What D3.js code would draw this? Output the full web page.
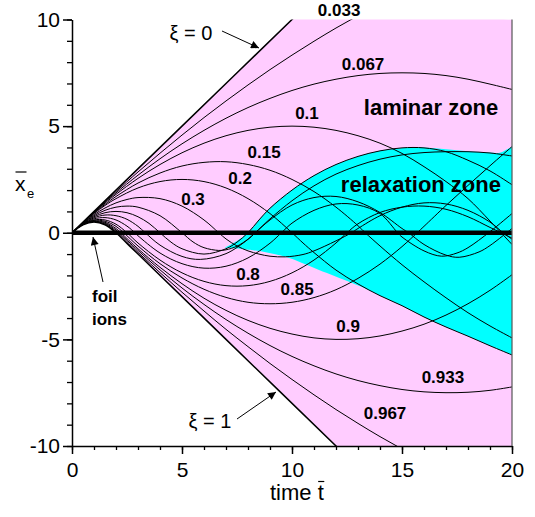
<!DOCTYPE html>
<html>
<head>
<meta charset="utf-8">
<script src="https://cdn.jsdelivr.net/npm/d3@7"></script>
<style>
  body { margin: 0; background: #fff; }
  svg { display: block; font-family: "Liberation Sans", Arial, Helvetica, sans-serif; }
</style>
</head>
<body>
<svg id="chart" width="535" height="517"></svg>
<script>
// electron trajectories x_e(t) for several foil layers xi
const xi_0 = [[0, 0], [5, 5], [10.6, 10.6]];
const xi_033 = [[0,0],[0.5,0.5],[1,0.98],[1.5,1.46],[2,1.93],[3,2.85],[4,3.73],[5,4.58],[6,5.4],[7,6.18],[8,6.93],[9,7.65],[10,8.33],[11,8.98],[12,9.6],[13,10.18],[14,10.73]];
const xi_067 = [[0,0],[0.5,0.49],[1,0.97],[1.5,1.43],[2,1.87],[3,2.7],[4,3.47],[5,4.17],[6,4.8],[7,5.37],[8,5.87],[9,6.3],[10,6.67],[11,6.97],[12,7.2],[13,7.37],[14,7.47],[15,7.5],[16,7.47],[17,7.37],[18,7.2],[19,6.97],[20,6.72]];
const xi_10 = [[0,0],[0.5,0.49],[1,0.95],[1.5,1.39],[2,1.8],[3,2.55],[4,3.2],[5,3.75],[6,4.2],[7,4.55],[8,4.8],[9,4.95],[10,5],[11,4.95],[12,4.8],[13,4.55],[14,4.2],[15,3.72],[16,3.1],[17,2.4],[18,1.6],[19,0.55],[20,-0.55]];
const xi_15 = [[0,0],[0.5,0.48],[1,0.93],[1.5,1.33],[2,1.7],[3,2.33],[4,2.8],[5,3.13],[6,3.3],[7,3.33],[8,3.2],[9,2.93],[10,2.5],[11,1.93],[12,1.2],[13,0.33],[13.33,0],[14,-0.62],[15,-1.5],[16,-2.3],[17,-3.05],[18,-3.75],[19,-4.37],[20,-4.93]];
const xi_20 = [[0,0],[0.5,0.48],[1,0.9],[1.5,1.28],[2,1.6],[3,2.1],[4,2.4],[5,2.5],[6,2.4],[7,2.1],[8,1.6],[9,0.9],[10,0],[10.5,-0.48],[11,-0.93],[12,-1.75],[13,-2.4],[14,-2.95],[15,-3.42],[16,-3.95],[17,-4.42],[18,-4.85],[19,-5.3],[20,-5.73]];
const xi_30 = [[0,0],[0.5,0.46],[1,0.85],[1.5,1.16],[2,1.4],[2.5,1.56],[3,1.65],[4,1.6],[5,1.25],[6,0.6],[6.67,0],[7,-0.29],[7.5,-0.62],[8,-0.85],[8.5,-1.0],[9,-1.1],[9.7,-1.13],[10.5,-1.02],[11,-0.85],[12,-0.38],[12.7,0],[13,0.2],[14,0.8],[15,1.2],[16,1.4],[17,1.35],[18,1.05],[19,0.5],[19.6,0],[20,-0.3]];
const xi_40 = [[0,0],[0.5,0.45],[1,0.8],[1.5,1.05],[2,1.2],[2.5,1.25],[3,1.2],[4,0.8],[5,0],[5.5,-0.43],[6,-0.7],[6.67,-0.83],[7,-0.8],[7.5,-0.63],[8,-0.3],[8.33,0],[9,0.65],[10,1.5],[11,2.2],[12,2.75],[13,3.15],[14,3.45],[15,3.65],[16,3.76],[17,3.8],[18,3.8],[19,3.74],[20,3.6]];
const xi_50 = [[0,0],[0.5,0.44],[1,0.75],[1.5,0.94],[2,1],[2.5,0.94],[3,0.75],[3.5,0.44],[4,0],[4.5,-0.44],[5,-0.75],[6,-1],[7,-0.75],[7.5,-0.44],[8,0],[8.5,0.6],[9,1.15],[10,2.0],[11,2.68],[12,3.2],[13,3.58],[14,3.84],[15,3.98],[16,3.98],[17,3.8],[18,3.4],[19,2.9],[20,2.25]];
const xi_60 = [[0,0],[0.5,0.43],[1,0.7],[1.5,0.83],[2,0.8],[2.5,0.63],[3,0.3],[3.33,0],[4,-0.58],[5,-1.11],[5.83,-1.25],[7,-0.98],[8,-0.31],[8.33,0],[9,0.6],[10,1.3],[11,1.65],[12,1.7],[13,1.45],[14,0.95],[15,0.2],[15.3,0],[16,-0.55],[17,-1.05],[17.6,-1.15],[18.5,-0.9],[19,-0.6],[20,0.2]];
const xi_70 = [[0,0],[0.5,0.41],[1,0.65],[1.5,0.71],[2,0.6],[2.5,0.31],[2.86,0],[3,-0.14],[4,-0.95],[5,-1.45],[6,-1.66],[7,-1.57],[8,-1.18],[9,-0.49],[9.52,0],[10,0.45],[11,1.05],[12,1.35],[13,1.3],[14,0.9],[14.8,0],[15,-0.2],[16,-0.85],[16.8,-1.1],[17.5,-0.95],[18,-0.7],[19,0.05],[20,0.9]];
const xi_80 = [[0,0],[0.5,0.4],[1,0.6],[1.5,0.6],[2,0.4],[2.5,0],[3,-0.48],[4,-1.28],[5,-1.88],[6,-2.28],[7,-2.48],[8,-2.48],[9,-2.28],[10,-1.88],[11,-1.28],[12,-0.48],[12.5,0],[13,0.42],[14,0.95],[15,1.2],[16,1.25],[17,1.1],[18,0.75],[19,0.25],[19.5,0],[20,-0.25]];
const xi_85 = [[0,0],[0.5,0.39],[1,0.58],[1.5,0.54],[2,0.3],[2.35,0],[3,-0.62],[4,-1.45],[5,-2.12],[6,-2.65],[7,-3.03],[8,-3.26],[9,-3.33],[10,-3.26],[11,-3.04],[12,-2.67],[13,-2.14],[14,-1.47],[15,-0.65],[15.69,0],[16,0.3],[17,1.28],[18,2.22],[19,3.14],[20,4.04]];
const xi_90 = [[0,0],[0.5,0.39],[1,0.55],[1.5,0.49],[2,0.2],[2.22,0],[3,-0.75],[4,-1.62],[5,-2.39],[6,-3.07],[7,-3.64],[8,-4.11],[9,-4.48],[10,-4.75],[11,-4.93],[12,-5],[13,-4.97],[14,-4.84],[15,-4.61],[16,-4.29],[17,-3.86],[18,-3.33],[19,-2.7],[20,-1.97]];
const xi_933 = [[0,0],[0.5,0.38],[1,0.53],[1.5,0.45],[2,0.13],[2.14,0],[3,-0.83],[4,-1.74],[5,-2.59],[6,-3.36],[7,-4.07],[8,-4.71],[9,-5.29],[10,-5.8],[11,-6.24],[12,-6.62],[13,-6.93],[14,-7.17],[15,-7.35],[16,-7.46],[17,-7.5],[18,-7.48],[19,-7.39],[20,-7.23]];
const xi_967 = [[0,0],[0.5,0.38],[1,0.52],[1.5,0.41],[2,0.07],[3,-0.92],[4,-1.87],[5,-2.79],[6,-3.67],[7,-4.53],[8,-5.34],[9,-6.13],[10,-6.88],[11,-7.6],[12,-8.29],[13,-8.94],[14,-9.56],[15,-10.14],[16,-10.7]];
const xi_1 = [[0,0],[0.5,0.375],[1,0.5],[1.5,0.375],[2,0],[2.5,-0.5],[3,-1],[7,-5],[12.6,-10.6]];

// edges of the relaxation zone
const relaxTop = [[6.95,-0.7],[7.4,-0.45],[8,0.0],[8.5,0.6],[9,1.15],[10,2.0],[11,2.68],[12,3.2],[13,3.58],[14,3.84],[15,3.98],[16,4.0],[17,3.92],[18,3.82],[19,3.76],[19.45,3.75],[20,4.04]];
const relaxBottom = [[20,-5.73],[19,-5.3],[18,-4.85],[17,-4.42],[16,-3.95],[15,-3.42],[14,-2.95],[13.4,-2.65],[12.7,-2.35],[11.2,-1.74],[9.7,-1.13],[8.1,-0.8],[6.95,-0.7]];

const xTicks = [0, 5, 10, 15, 20];
const yTicks = [-10, -5, 0, 5, 10];

const curveLabels = ["0.033", "0.067", "0.1", "0.15", "0.2", "0.3", "0.8", "0.85", "0.9", "0.933", "0.967"];
const labelAt = [[12.14,10.47],[13.23,7.92],[10.68,5.62],[8.73,3.79],[7.64,2.57],[5.5,1.58],[8.0,-1.94],[10.23,-2.64],[12.55,-4.37],[16.86,-6.77],[14.23,-8.46]];

const innerCurves = [xi_033, xi_067, xi_10, xi_15, xi_20, xi_30, xi_40, xi_50, xi_60, xi_70, xi_80, xi_85, xi_90, xi_933, xi_967];

const svg = d3.select("#chart");
const margin = { top: 19.5, right: 23, bottom: 71, left: 72 };
const W = 535, H = 517;

const x = d3.scaleLinear().domain([0, 20]).range([margin.left, W - margin.right]);
const y = d3.scaleLinear().domain([-10, 10]).range([H - margin.bottom, margin.top]);

const defs = svg.append("defs");
defs.append("clipPath").attr("id", "plotClip")
  .append("rect")
  .attr("x", x(0)).attr("y", y(10))
  .attr("width", x(20) - x(0)).attr("height", y(-10) - y(10));

defs.append("marker")
  .attr("id", "arrow")
  .attr("viewBox", "0 0 10 10")
  .attr("refX", 10).attr("refY", 5)
  .attr("markerWidth", 11).attr("markerHeight", 8)
  .attr("markerUnits", "userSpaceOnUse")
  .attr("orient", "auto")
  .append("path").attr("d", "M0,0 L10,5 L0,10 z").attr("fill", "#000");

const line = d3.line().x(d => x(d[0])).y(d => y(d[1])).curve(d3.curveCatmullRom.alpha(0.5));

const plot = svg.append("g").attr("clip-path", "url(#plotClip)");

// pink band between the xi = 0 and xi = 1 electrons
const [x0, x1] = x.domain(), [y0, y1] = y.domain();
const bandPts = xi_0.concat([[x1, y1], [x1, y0]], xi_1.slice().reverse());
plot.append("path")
  .attr("d", d3.line().x(d => x(d[0])).y(d => y(d[1]))(bandPts) + "Z")
  .attr("fill", "#ffccff");

// cyan relaxation zone
const topPath = line(relaxTop);
const botPath = line(relaxBottom).replace(/^M/, "L");
plot.append("path").attr("d", topPath + botPath + "Z").attr("fill", "#00ffff");

// trajectories
plot.append("g").selectAll("path")
  .data(innerCurves)
  .join("path")
  .attr("d", line)
  .attr("fill", "none")
  .attr("stroke", "#000")
  .attr("stroke-width", 1);

plot.append("g").selectAll("path")
  .data([xi_0, xi_1])
  .join("path")
  .attr("d", line)
  .attr("fill", "none")
  .attr("stroke", "#000")
  .attr("stroke-width", 1.5);

// foil ions stay at x = 0
plot.append("line")
  .attr("x1", x(x0)).attr("x2", x(x1))
  .attr("y1", y(0)).attr("y2", y(0))
  .attr("stroke", "#000").attr("stroke-width", 4.5);

// axes
const axisFont = g => g.selectAll("text").attr("font-size", 21).attr("fill", "#000")
  .attr("font-family", "'Liberation Sans', Arial, sans-serif");
const plain = d => String(d);

svg.append("g")
  .attr("transform", `translate(0,${y(-10)})`)
  .call(d3.axisBottom(x).tickValues(d3.range(0, 21, 1)).tickSize(4).tickFormat(""))
  .call(g => g.select(".domain").remove())
  .call(g => g.selectAll("line").attr("stroke-width", 1.3));

svg.append("g")
  .attr("transform", `translate(0,${y(-10)})`)
  .call(d3.axisBottom(x).tickValues(xTicks).tickFormat(plain).tickSize(8).tickPadding(8).tickSizeOuter(0))
  .call(axisFont)
  .call(g => g.selectAll("line, path").attr("stroke-width", 1.5));

svg.append("g")
  .attr("transform", `translate(${x(0)},0)`)
  .call(d3.axisLeft(y).tickValues(d3.range(-10, 11, 1)).tickSize(5).tickFormat(""))
  .call(g => g.select(".domain").remove())
  .call(g => g.selectAll("line").attr("stroke-width", 1.3));

svg.append("g")
  .attr("transform", `translate(${x(0)},0)`)
  .call(d3.axisLeft(y).tickValues(yTicks).tickFormat(plain).tickSize(9).tickPadding(3).tickSizeOuter(0))
  .call(axisFont)
  .call(g => g.selectAll("line, path").attr("stroke-width", 1.5));

// right frame
svg.append("line")
  .attr("x1", x(20)).attr("x2", x(20))
  .attr("y1", y(10)).attr("y2", y(-10))
  .attr("stroke", "#555").attr("stroke-width", 1.2);

// axis titles
const tTitle = svg.append("text")
  .attr("x", 270).attr("y", 500)
  .attr("font-size", 22)
  .text("time t");
const tNode = tTitle.node();
const tA = tNode.getStartPositionOfChar(5).x, tB = tNode.getEndPositionOfChar(5).x;
svg.append("line")
  .attr("x1", tA + 0.5).attr("x2", tB + 0.5)
  .attr("y1", 481.5).attr("y2", 481.5)
  .attr("stroke", "#000").attr("stroke-width", 1.2);

svg.append("text").attr("x", 15).attr("y", 191).attr("font-size", 21).text("x");
svg.append("text").attr("x", 27).attr("y", 198).attr("font-size", 13).text("e");
svg.append("line")
  .attr("x1", 15.5).attr("x2", 26.5)
  .attr("y1", 172).attr("y2", 172)
  .attr("stroke", "#000").attr("stroke-width", 1.2);

// curve labels
svg.append("g").selectAll("text")
  .data(curveLabels)
  .join("text")
  .attr("x", (d, i) => x(labelAt[i][0]))
  .attr("y", (d, i) => y(labelAt[i][1]))
  .attr("dy", "0.36em")
  .attr("text-anchor", "middle")
  .attr("font-size", 17)
  .attr("font-weight", "bold")
  .text(d => d);

svg.append("text")
  .attr("x", x(16.32)).attr("y", y(5.9)).attr("dy", "0.36em")
  .attr("text-anchor", "middle").attr("font-size", 22).attr("font-weight", "bold")
  .text("laminar zone");
svg.append("text")
  .attr("x", x(15.86)).attr("y", y(2.29)).attr("dy", "0.36em")
  .attr("text-anchor", "middle").attr("font-size", 22).attr("font-weight", "bold")
  .text("relaxation zone");

// foil ions annotation
svg.append("text").attr("x", 92).attr("y", 302).attr("font-size", 17).attr("font-weight", "bold").text("foil");
svg.append("text").attr("x", 92).attr("y", 325).attr("font-size", 17).attr("font-weight", "bold").text("ions");
svg.append("line")
  .attr("x1", 103).attr("y1", 282).attr("x2", 93).attr("y2", 237)
  .attr("stroke", "#000").attr("stroke-width", 1).attr("marker-end", "url(#arrow)");

// xi = 0 / xi = 1 annotations
svg.append("text").attr("x", 191).attr("y", 40).attr("text-anchor", "middle").attr("font-size", 20).text("ξ = 0");
svg.append("line")
  .attr("x1", 222).attr("y1", 31).attr("x2", 259).attr("y2", 48)
  .attr("stroke", "#000").attr("stroke-width", 1).attr("marker-end", "url(#arrow)");

svg.append("text").attr("x", 210).attr("y", 428).attr("text-anchor", "middle").attr("font-size", 20).text("ξ = 1");
svg.append("line")
  .attr("x1", 237).attr("y1", 419).attr("x2", 276).attr("y2", 392)
  .attr("stroke", "#000").attr("stroke-width", 1).attr("marker-end", "url(#arrow)");
</script>
</body>
</html>
